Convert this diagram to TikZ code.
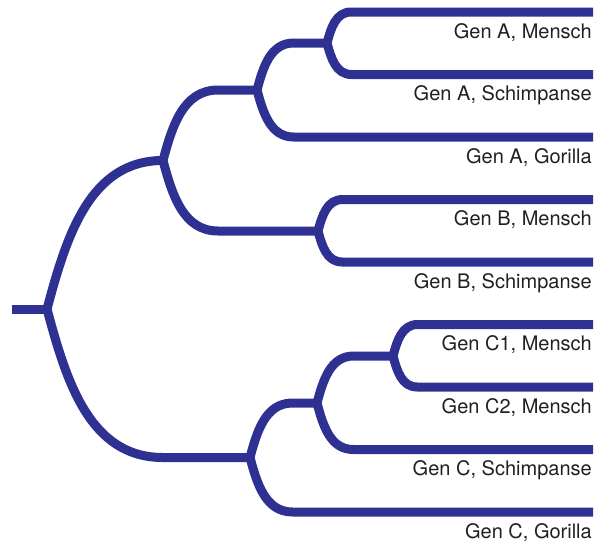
\documentclass[tikz,border=0pt]{standalone}
\usepackage{fontspec}
\setmainfont{TeX Gyre Heros}
\definecolor{treeblue}{HTML}{2E3192}
\definecolor{labelgray}{HTML}{231F20}
\usetikzlibrary{calc}
\newcommand{\branch}[3]
{
	\draw[twig] let \p1 = (#1), \p2 = (#2), \n1 = {abs(\y2-\y1)} in
		(\p1) to[out=#3, in=180] (\x1+0.78*\n1, \y2) -- (\p2)
}
\begin{document}
\begin{tikzpicture}[x=1pt, y=1pt,
	twig/.style={draw=treeblue, line width=9pt},
	every node/.append style={anchor=base east, inner sep=0pt,
		text=labelgray, font=\fontsize{20}{24}\selectfont}]

	\useasboundingbox (0, 0) rectangle (595, -544);

	% inner junctions
	\coordinate (S) at (12, -309);
	\coordinate (R) at (47, -309);
	\coordinate (AB) at (163, -160.5);
	\coordinate (A) at (257, -90);
	\coordinate (A1) at (327, -43);
	\coordinate (B) at (318, -231);
	\coordinate (C) at (250, -457.5);
	\coordinate (Cp) at (317, -403);
	\coordinate (C12) at (393, -356);

	% leaf ends
	\coordinate (AM) at (593, -12);
	\coordinate (AS) at (593, -74.5);
	\coordinate (AG) at (593, -137);
	\coordinate (BM) at (593, -199.5);
	\coordinate (BS) at (593, -262);
	\coordinate (C1M) at (593, -324.5);
	\coordinate (C2M) at (593, -387);
	\coordinate (CS) at (593, -449.5);
	\coordinate (CG) at (593, -512);

	\node at (592, -38) (AMlab){Gen A, Mensch};
	\node at (592, -100.5) (ASlab){Gen A, Schimpanse};
	\node at (592, -163) (AGlab){Gen A, Gorilla};
	\node at (592, -225.5) (BMlab){Gen B, Mensch};
	\node at (592, -288) (BSlab){Gen B, Schimpanse};
	\node at (592, -350.5) (C1Mlab){Gen C1, Mensch};
	\node at (592, -413) (C2Mlab){Gen C2, Mensch};
	\node at (592, -475.5) (CSlab){Gen C, Schimpanse};
	\node at (592, -538) (CGlab){Gen C, Gorilla};

	\draw[twig] (S) -- (R);
	\branch{R}{AB}{75};
	\branch{R}{C}{-75};
	\branch{AB}{A}{75};
	\branch{AB}{B}{-75};
	\branch{A}{A1}{75};
	\branch{A}{AG}{-75};
	\branch{A1}{AM}{75};
	\branch{A1}{AS}{-75};
	\branch{B}{BM}{75};
	\branch{B}{BS}{-75};
	\branch{C}{Cp}{75};
	\branch{C}{CG}{-75};
	\branch{Cp}{C12}{75};
	\branch{Cp}{CS}{-75};
	\branch{C12}{C1M}{75};
	\branch{C12}{C2M}{-75};
\end{tikzpicture}
\end{document}
